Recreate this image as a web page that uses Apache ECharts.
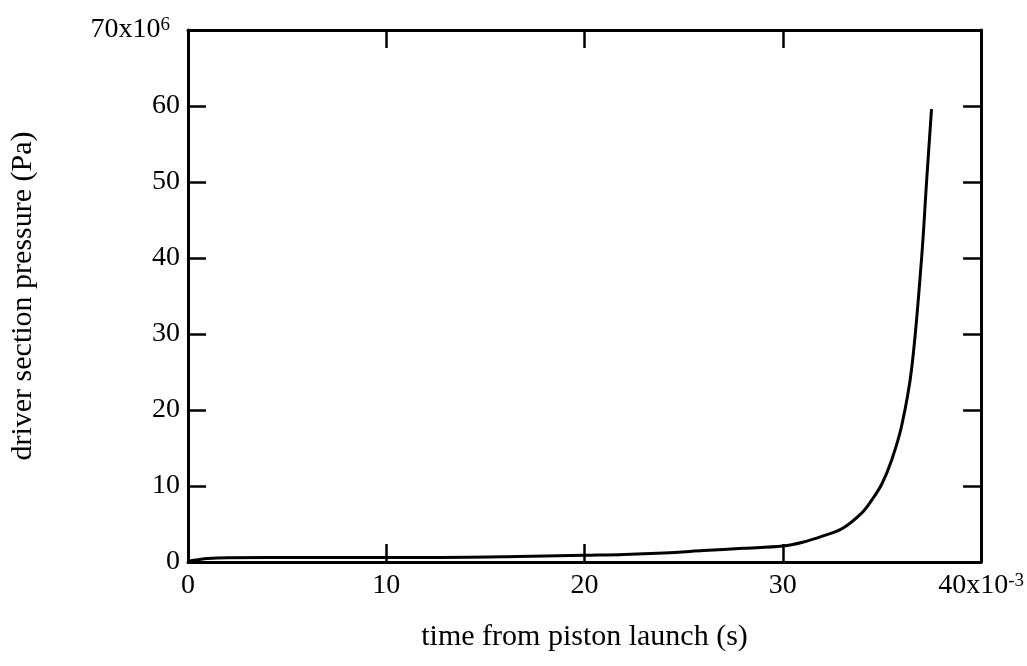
<!DOCTYPE html>
<html>
<head>
<meta charset="utf-8">
<script src="https://cdn.jsdelivr.net/npm/echarts@6/dist/echarts.min.js"></script>
<style>
html,body{margin:0;padding:0;background:#fff;}
#chart{width:1027px;height:666px;}
</style>
</head>
<body>
<div id="chart"></div>
<script>
// time from piston launch (x10^-3 s)
var timeMs = [0, 0.5, 1, 2, 4, 8, 12, 16, 20, 22, 24, 26, 28, 30, 31, 32, 33, 34, 34.5, 35, 35.5, 36, 36.5, 37, 37.25, 37.5];
// driver section pressure (x10^6 Pa)
var pressureMPa = [0.1, 0.3, 0.45, 0.55, 0.6, 0.6, 0.6, 0.7, 0.9, 1.0, 1.2, 1.5, 1.8, 2.1, 2.6, 3.4, 4.4, 6.5, 8.2, 10.3, 13.5, 18, 25.5, 40, 50, 59.6];
var xTicks = [0, 10, 20, 30, 40];
var yTicks = [0, 10, 20, 30, 40, 50, 60, 70];
var xTitle = 'time from piston launch (s)';
var yTitle = 'driver section pressure (Pa)';

var FONT = 'Liberation Serif';
var data = timeMs.map(function (t, i) { return [t, pressureMPa[i]]; });

var axisLineStyle = { show: true, onZero: false, lineStyle: { color: '#000', width: 3 } };
var tickStyle = { show: true, inside: true, length: 18, lineStyle: { color: '#000', width: 2.5 } };

var chart = echarts.init(document.getElementById('chart'));
chart.setOption({
  backgroundColor: '#fff',
  animation: false,
  grid: { left: 185, right: 41, top: 30, bottom: 104, containLabel: false },
  xAxis: [{
    type: 'value', position: 'bottom',
    min: xTicks[0], max: xTicks[xTicks.length - 1], interval: 10,
    axisLine: axisLineStyle, axisTick: tickStyle, splitLine: { show: false },
    axisLabel: {
      color: '#000', fontFamily: FONT, fontSize: 28, margin: 10,
      formatter: function (v) { return v === 40 ? '40x10{sup|-3}' : String(v); },
      rich: { sup: { fontFamily: FONT, fontSize: 19, verticalAlign: 'top', color: '#000' } }
    },
    name: xTitle, nameLocation: 'middle', nameGap: 60,
    nameTextStyle: { color: '#000', fontFamily: FONT, fontSize: 30 }
  }, {
    type: 'value', position: 'top',
    min: xTicks[0], max: xTicks[xTicks.length - 1], interval: 10,
    axisLine: axisLineStyle, axisTick: tickStyle, splitLine: { show: false },
    axisLabel: { show: false }
  }],
  yAxis: [{
    type: 'value', position: 'left',
    min: yTicks[0], max: yTicks[yTicks.length - 1], interval: 10,
    axisLine: axisLineStyle, axisTick: tickStyle, splitLine: { show: false },
    axisLabel: {
      color: '#000', fontFamily: FONT, fontSize: 28, margin: 8,
      formatter: function (v) { return v === 70 ? '70x10{sup|6}' : String(v); },
      rich: { sup: { fontFamily: FONT, fontSize: 19, verticalAlign: 'top', color: '#000', padding: [0, 10, 0, 0] } }
    },
    name: yTitle, nameLocation: 'middle', nameGap: 150,
    nameTextStyle: { color: '#000', fontFamily: FONT, fontSize: 30 }
  }, {
    type: 'value', position: 'right',
    min: yTicks[0], max: yTicks[yTicks.length - 1], interval: 10,
    axisLine: axisLineStyle, axisTick: tickStyle, splitLine: { show: false },
    axisLabel: { show: false }
  }],
  series: [{
    type: 'line', xAxisIndex: 0, yAxisIndex: 0,
    data: data, showSymbol: false, symbol: 'none',
    smooth: 0.35,
    lineStyle: { color: '#000', width: 3 }
  }]
});
</script>
</body>
</html>
